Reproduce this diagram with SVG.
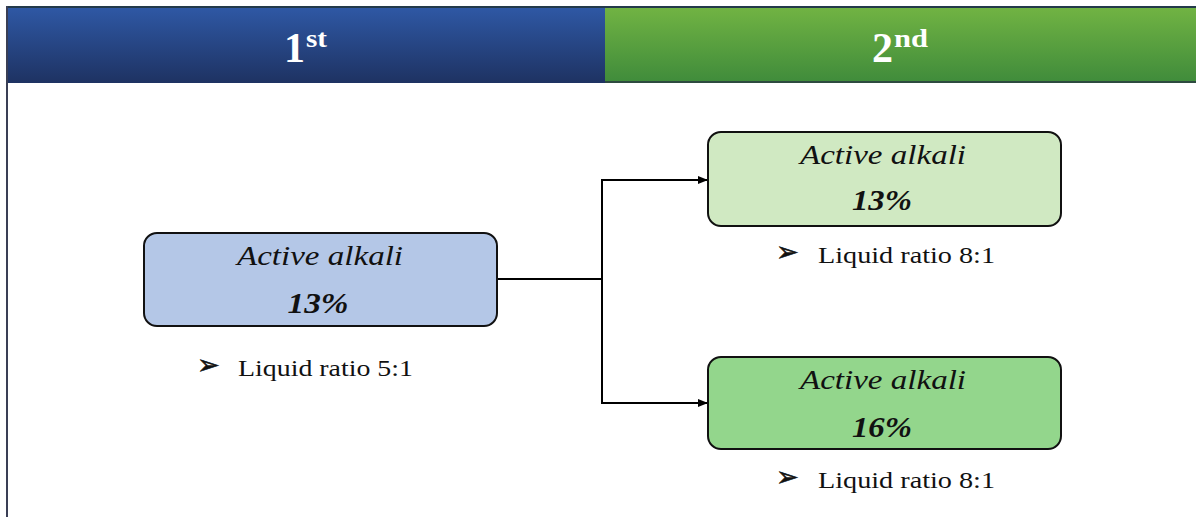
<svg xmlns="http://www.w3.org/2000/svg" width="1196" height="517" viewBox="0 0 1196 517">
<style>
.hdr{font-family:"Liberation Serif",serif;font-weight:bold;fill:#fff;font-size:42px}
.sup{font-size:25px}
.t1{font-family:"Liberation Serif",serif;font-style:italic;font-size:27px;fill:#111;text-anchor:middle}
.t2{font-family:"Liberation Serif",serif;font-style:italic;font-weight:bold;font-size:29px;fill:#111;text-anchor:middle}
.lr{font-family:"Liberation Serif",serif;font-size:24px;fill:#111}
.bul{font-family:"DejaVu Sans",sans-serif;font-size:27px;fill:#111;stroke:#111;stroke-width:0.6}
.box{stroke:#111;stroke-width:2}
.conn{fill:none;stroke:#000;stroke-width:2}
</style>
<defs>
<linearGradient id="gb" x1="0" y1="0" x2="0" y2="1">
<stop offset="0" stop-color="#2f59a6"/><stop offset="1" stop-color="#1e3262"/>
</linearGradient>
<linearGradient id="gg" x1="0" y1="0" x2="0" y2="1">
<stop offset="0" stop-color="#72b443"/><stop offset="1" stop-color="#3f8b3b"/>
</linearGradient>
<marker id="ah" markerWidth="10" markerHeight="8" refX="9" refY="4" orient="auto" markerUnits="userSpaceOnUse">
<path d="M0,0 L10,4 L0,8 Z" fill="#000"/>
</marker>
</defs>
<rect width="1196" height="517" fill="#fff"/>
<g id="header">
<rect x="6" y="6" width="600" height="77" fill="url(#gb)"/>
<rect x="605" y="6" width="591" height="77" fill="url(#gg)"/>
<line x1="6" y1="7" x2="1196" y2="7" stroke="#233a4a" stroke-width="2"/>
<line x1="605" y1="82" x2="1196" y2="82" stroke="#2e4a40" stroke-width="2"/>
<line x1="7" y1="6" x2="7" y2="517" stroke="#3a3f55" stroke-width="2"/>
<text class="hdr" x="284" y="62">1<tspan class="sup" x="306" y="47" textLength="21" lengthAdjust="spacingAndGlyphs">st</tspan></text>
<text class="hdr" x="872" y="62">2<tspan class="sup" x="894" y="47" textLength="34" lengthAdjust="spacingAndGlyphs">nd</tspan></text>
</g>
<g id="connectors">
<polyline class="conn" points="497,279 602,279"/>
<polyline class="conn" points="602,403 602,180 707,180" marker-end="url(#ah)"/>
<polyline class="conn" points="602,279 602,403 707,403" marker-end="url(#ah)"/>
</g>
<g id="node1">
<rect class="box" x="144" y="233" width="353" height="93" rx="13" fill="#b4c7e7"/>
<text class="t1" x="320" y="265" textLength="166" lengthAdjust="spacingAndGlyphs">Active alkali</text>
<text class="t2" x="318" y="313" textLength="61" lengthAdjust="spacingAndGlyphs">13%</text>
<text class="bul" x="197" y="374">➢</text>
<text class="lr" x="238" y="376" textLength="175" lengthAdjust="spacingAndGlyphs">Liquid ratio 5:1</text>
</g>
<g id="node2">
<rect class="box" x="708" y="132" width="353" height="94" rx="13" fill="#d0e9c2"/>
<text class="t1" x="883" y="164" textLength="166" lengthAdjust="spacingAndGlyphs">Active alkali</text>
<text class="t2" x="882" y="210" textLength="60" lengthAdjust="spacingAndGlyphs">13%</text>
<text class="bul" x="776" y="261">➢</text>
<text class="lr" x="818" y="263" textLength="177" lengthAdjust="spacingAndGlyphs">Liquid ratio 8:1</text>
</g>
<g id="node3">
<rect class="box" x="708" y="357" width="353" height="92" rx="13" fill="#93d68c"/>
<text class="t1" x="883" y="389" textLength="166" lengthAdjust="spacingAndGlyphs">Active alkali</text>
<text class="t2" x="882" y="437" textLength="60" lengthAdjust="spacingAndGlyphs">16%</text>
<text class="bul" x="776" y="486">➢</text>
<text class="lr" x="818" y="488" textLength="177" lengthAdjust="spacingAndGlyphs">Liquid ratio 8:1</text>
</g>
</svg>
